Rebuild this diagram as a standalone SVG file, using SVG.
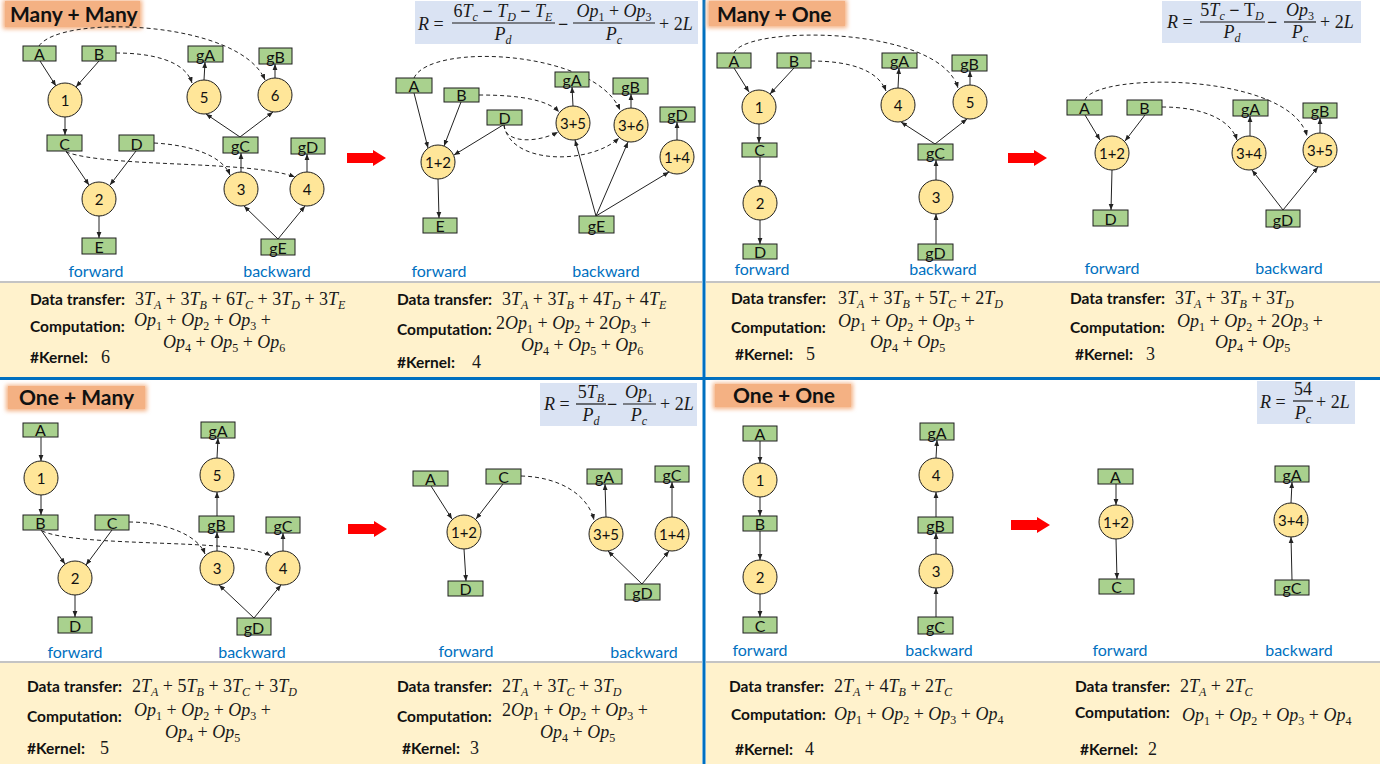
<svg xmlns="http://www.w3.org/2000/svg" width="1385" height="764" viewBox="0 0 1385 764">
<style>
.box{fill:#A9D18E;stroke:#1f1f1f;stroke-width:1}
.op{fill:#FFE699;stroke:#1f1f1f;stroke-width:1}
.bl{font-family:Lato,"Liberation Sans",sans-serif;font-size:16px;fill:#111;text-anchor:middle}
.cl{font-family:Lato,"Liberation Sans",sans-serif;font-size:15px;fill:#111;text-anchor:middle}
.e{fill:none;stroke:#222;stroke-width:1;marker-end:url(#ah)}
.d{fill:none;stroke:#222;stroke-width:1;stroke-dasharray:4 3;marker-end:url(#ah)}
.fb{font-family:Lato,"Liberation Sans",sans-serif;font-size:16px;fill:#0070C0;text-anchor:middle}
.lb{font-family:Lato,"Liberation Sans",sans-serif;font-weight:bold;font-size:15.5px;fill:#111}
.tt{font-family:Lato,"Liberation Sans",sans-serif;font-weight:bold;font-size:21px;fill:#111}
.m{font-family:"Liberation Serif",serif;font-size:18px;fill:#1a1a1a}
.i{font-style:italic}
.s{font-style:italic;font-size:12px}
.sn{font-size:12px}
.bm{font-weight:bold}
.fr{stroke:#1a1a1a;stroke-width:1.2}
.yel{fill:#FFF2CC}
.sep{stroke:#C4C4C4;stroke-width:2}
.fbox{fill:#DAE3F3}
.red{fill:#FF0000}
.ttl{fill:#F4B183}
</style>
<defs>
<marker id="ah" viewBox="0 0 10 10" refX="10" refY="5" markerWidth="6" markerHeight="6" markerUnits="userSpaceOnUse" orient="auto"><path d="M0,1 L10,5 L0,9 z" fill="#222"/></marker>
<filter id="soft" x="-20%" y="-40%" width="140%" height="180%"><feGaussianBlur stdDeviation="2"/></filter>
</defs>
<rect x="0" y="0" width="1385" height="764" fill="#fff"/>

<!-- panels -->
<g id="panels">
<rect class="yel" x="0" y="283" width="702" height="94"/>
<rect class="yel" x="706" y="283" width="674" height="94"/>
<rect class="yel" x="0" y="663" width="702" height="101"/>
<rect class="yel" x="706" y="663" width="674" height="101"/>
<line class="sep" x1="0" y1="282" x2="702" y2="282"/>
<line class="sep" x1="706" y1="282" x2="1380" y2="282"/>
<line class="sep" x1="0" y1="662" x2="702" y2="662"/>
<line class="sep" x1="706" y1="662" x2="1380" y2="662"/>
<line x1="0" y1="378.5" x2="1380" y2="378.5" stroke="#0070C0" stroke-width="3"/>
<line x1="704" y1="0" x2="704" y2="764" stroke="#0070C0" stroke-width="3"/>
<rect class="fbox" x="415" y="1" width="283" height="43"/>
<rect class="fbox" x="1162" y="1" width="199" height="42"/>
<rect class="fbox" x="540" y="383" width="157" height="43"/>
<rect class="fbox" x="1257" y="381" width="98" height="43"/>
</g>

<!-- titles -->
<g id="title-q1"><rect class="ttl" x="3" y="0" width="139" height="29" filter="url(#soft)"/><rect class="ttl" x="5" y="1" width="135" height="26"/><text class="tt" x="10" y="22">Many + Many</text></g>
<g id="title-q2"><rect class="ttl" x="707" y="0" width="140" height="28" filter="url(#soft)"/><rect class="ttl" x="709" y="1" width="136" height="25"/><text class="tt" x="717" y="22">Many + One</text></g>
<g id="title-q3"><rect class="ttl" x="6" y="385" width="141" height="26" filter="url(#soft)"/><rect class="ttl" x="8" y="386" width="137" height="23"/><text class="tt" x="19" y="405">One + Many</text></g>
<g id="title-q4"><rect class="ttl" x="713" y="383" width="140" height="26" filter="url(#soft)"/><rect class="ttl" x="715" y="384" width="136" height="23"/><text class="tt" x="733" y="403">One + One</text></g>

<!-- formulas -->
<g id="formula-q1">
<text class="m" x="418" y="30"><tspan class="i">R</tspan> =</text>
<text class="m" x="503" y="17" text-anchor="middle">6<tspan class="i">T</tspan><tspan class="s" dy="4">c</tspan><tspan dy="-4" class="bm"> − </tspan><tspan class="i">T</tspan><tspan class="s" dy="4">D</tspan><tspan dy="-4" class="bm"> − </tspan><tspan class="i">T</tspan><tspan class="s" dy="4">E</tspan></text>
<line class="fr" x1="452" y1="23" x2="555" y2="23"/>
<text class="m" x="503" y="40" text-anchor="middle"><tspan class="i">P</tspan><tspan class="s" dy="4">d</tspan></text>
<text class="m bm" x="558" y="30">−</text>
<text class="m" x="614" y="17" text-anchor="middle"><tspan class="i">Op</tspan><tspan class="sn" dy="4">1</tspan><tspan dy="-4"> + </tspan><tspan class="i">Op</tspan><tspan class="sn" dy="4">3</tspan></text>
<line class="fr" x1="573" y1="23" x2="655" y2="23"/>
<text class="m" x="614" y="40" text-anchor="middle"><tspan class="i">P</tspan><tspan class="s" dy="4">c</tspan></text>
<text class="m" x="659" y="30">+ 2<tspan class="i">L</tspan></text>
</g>
<g id="formula-q2">
<text class="m" x="1167" y="28"><tspan class="i">R</tspan> =</text>
<text class="m" x="1232" y="16" text-anchor="middle">5<tspan class="i">T</tspan><tspan class="s" dy="4">c</tspan><tspan dy="-4"><tspan class="bm"> − </tspan>T</tspan><tspan class="s" dy="4">D</tspan></text>
<line class="fr" x1="1200" y1="22" x2="1265" y2="22"/>
<text class="m" x="1232" y="38" text-anchor="middle"><tspan class="i">P</tspan><tspan class="s" dy="4">d</tspan></text>
<text class="m bm" x="1267" y="28">−</text>
<text class="m" x="1300" y="16" text-anchor="middle"><tspan class="i">Op</tspan><tspan class="sn" dy="4">3</tspan></text>
<line class="fr" x1="1284" y1="22" x2="1316" y2="22"/>
<text class="m" x="1300" y="38" text-anchor="middle"><tspan class="i">P</tspan><tspan class="s" dy="4">c</tspan></text>
<text class="m" x="1320" y="28">+ 2<tspan class="i">L</tspan></text>
</g>
<g id="formula-q3">
<text class="m" x="544" y="410"><tspan class="i">R</tspan> =</text>
<text class="m" x="591" y="398" text-anchor="middle">5<tspan class="i">T</tspan><tspan class="s" dy="4">B</tspan></text>
<line class="fr" x1="576" y1="404" x2="606" y2="404"/>
<text class="m" x="591" y="421" text-anchor="middle"><tspan class="i">P</tspan><tspan class="s" dy="4">d</tspan></text>
<text class="m bm" x="607" y="410">−</text>
<text class="m" x="639" y="398" text-anchor="middle"><tspan class="i">Op</tspan><tspan class="sn" dy="4">1</tspan></text>
<line class="fr" x1="623" y1="404" x2="656" y2="404"/>
<text class="m" x="639" y="421" text-anchor="middle"><tspan class="i">P</tspan><tspan class="s" dy="4">c</tspan></text>
<text class="m" x="660" y="410">+ 2<tspan class="i">L</tspan></text>
</g>
<g id="formula-q4">
<text class="m" x="1260" y="408"><tspan class="i">R</tspan> =</text>
<text class="m" x="1303" y="395" text-anchor="middle">54</text>
<line class="fr" x1="1293" y1="401" x2="1313" y2="401"/>
<text class="m" x="1303" y="419" text-anchor="middle"><tspan class="i">P</tspan><tspan class="s" dy="4">c</tspan></text>
<text class="m" x="1316" y="408">+ 2<tspan class="i">L</tspan></text>
</g>

<!-- red arrows -->
<g id="red-arrows">
<path class="red" d="M347,153 L373,153 L373,150 L386,158 L373,166 L373,163 L347,163 Z"/>
<path class="red" d="M1008,153 L1034,153 L1034,150 L1047,158 L1034,166 L1034,163 L1008,163 Z"/>
<path class="red" d="M348,524 L374,524 L374,521 L387,529 L374,537 L374,534 L348,534 Z"/>
<path class="red" d="M1011,520 L1037,520 L1037,517 L1050,525 L1037,533 L1037,530 L1011,530 Z"/>
</g>

<!-- connectors -->
<g id="connectors">
<!-- Q1 left -->
<path class="e" d="M40,61 L56,86"/>
<path class="e" d="M99,61 L76,87"/>
<path class="e" d="M65,117 L65,135"/>
<path class="e" d="M66,151 L89,185"/>
<path class="e" d="M136,151 L110,185"/>
<path class="e" d="M99,216 L99,238"/>
<path class="e" d="M204,80 L205,62"/>
<path class="e" d="M275,78 L275,64"/>
<path class="e" d="M240,137 L206,114"/>
<path class="e" d="M240,137 L273,112"/>
<path class="e" d="M241,172 L241,153"/>
<path class="e" d="M307,172 L307,154"/>
<path class="e" d="M278,239 L244,206"/>
<path class="e" d="M278,239 L305,206"/>
<path class="d" d="M39,46 C60,14 240,20 265,80"/>
<path class="d" d="M116,53 C150,53 185,60 192,83"/>
<path class="d" d="M154,143 C190,145 222,155 230,175"/>
<path class="d" d="M66,152 C110,168 250,160 295,177"/>
<!-- Q1 right -->
<path class="e" d="M414,93 L428,148"/>
<path class="e" d="M461,102 L444,146"/>
<path class="e" d="M503,125 L454,155"/>
<path class="e" d="M438,179 L439,218"/>
<path class="e" d="M573,106 L572,87"/>
<path class="e" d="M631,108 L631,94"/>
<path class="e" d="M677,140 L677,122"/>
<path class="e" d="M596,216 L575,140"/>
<path class="e" d="M596,216 L628,142"/>
<path class="e" d="M596,216 L669,172"/>
<path class="d" d="M414,78 C430,42 595,50 620,110"/>
<path class="d" d="M479,95 C520,95 548,100 559,112"/>
<path class="d" d="M504,125 C505,145 540,142 558,132"/>
<path class="d" d="M504,125 C510,165 590,165 619,138"/>
<!-- Q2 left -->
<path class="e" d="M734,68 L749,92"/>
<path class="e" d="M794,68 L770,94"/>
<path class="e" d="M759,124 L759,143"/>
<path class="e" d="M760,157 L760,186"/>
<path class="e" d="M760,220 L760,244"/>
<path class="e" d="M898,88 L899,68"/>
<path class="e" d="M970,85 L970,71"/>
<path class="e" d="M935,144 L901,122"/>
<path class="e" d="M935,144 L967,119"/>
<path class="e" d="M936,180 L936,160"/>
<path class="e" d="M936,244 L936,214"/>
<path class="d" d="M734,53 C745,25 940,25 958,88"/>
<path class="d" d="M811,61 C850,61 878,70 886,91"/>
<!-- Q2 right -->
<path class="e" d="M1085,115 L1100,140"/>
<path class="e" d="M1145,115 L1125,141"/>
<path class="e" d="M1112,170 L1111,210"/>
<path class="e" d="M1250,136 L1250,116"/>
<path class="e" d="M1320,133 L1320,118"/>
<path class="e" d="M1283,210 L1252,170"/>
<path class="e" d="M1283,210 L1318,167"/>
<path class="d" d="M1085,100 C1095,72 1290,72 1307,136"/>
<path class="d" d="M1162,107 C1200,107 1230,118 1237,140"/>
<!-- Q3 left -->
<path class="e" d="M41,437 L41,461"/>
<path class="e" d="M41,495 L41,515"/>
<path class="e" d="M41,530 L65,564"/>
<path class="e" d="M112,530 L86,565"/>
<path class="e" d="M75,595 L75,617"/>
<path class="e" d="M217,458 L218,438"/>
<path class="e" d="M217,516 L217,492"/>
<path class="e" d="M217,551 L217,532"/>
<path class="e" d="M283,551 L283,533"/>
<path class="e" d="M254,618 L219,585"/>
<path class="e" d="M254,618 L281,585"/>
<path class="d" d="M129,522 C165,522 198,535 205,554"/>
<path class="d" d="M42,531 C80,548 240,538 271,556"/>
<!-- Q3 right -->
<path class="e" d="M431,486 L452,519"/>
<path class="e" d="M503,484 L476,519"/>
<path class="e" d="M464,549 L466,581"/>
<path class="e" d="M606,517 L605,484"/>
<path class="e" d="M672,517 L672,482"/>
<path class="e" d="M642,584 L608,551"/>
<path class="e" d="M642,584 L669,551"/>
<path class="d" d="M521,476 C560,477 588,495 594,520"/>
<!-- Q4 left -->
<path class="e" d="M760,441 L760,463"/>
<path class="e" d="M760,497 L760,516"/>
<path class="e" d="M760,531 L760,560"/>
<path class="e" d="M760,594 L760,617"/>
<path class="e" d="M936,458 L937,440"/>
<path class="e" d="M936,517 L936,492"/>
<path class="e" d="M936,554 L936,533"/>
<path class="e" d="M936,617 L936,588"/>
<!-- Q4 right -->
<path class="e" d="M1116,484 L1116,505"/>
<path class="e" d="M1116,539 L1117,579"/>
<path class="e" d="M1291,503 L1292,482"/>
<path class="e" d="M1292,580 L1291,537"/>
</g>

<!-- Q1 left nodes -->
<g id="q1a-A"><rect class="box" x="23" y="46" width="33" height="15"/><text class="bl" x="39.5" y="59.5">A</text></g>
<g id="q1a-B"><rect class="box" x="82" y="46" width="34" height="15"/><text class="bl" x="99" y="59.5">B</text></g>
<g id="q1a-gA"><rect class="box" x="188" y="46" width="35" height="16"/><text class="bl" x="205.5" y="60.5">gA</text></g>
<g id="q1a-gB"><rect class="box" x="259" y="48" width="33" height="16"/><text class="bl" x="275.5" y="62.5">gB</text></g>
<g id="q1a-C"><rect class="box" x="47" y="135" width="35" height="16"/><text class="bl" x="64.5" y="149.5">C</text></g>
<g id="q1a-D"><rect class="box" x="119" y="135" width="35" height="16"/><text class="bl" x="136.5" y="149.5">D</text></g>
<g id="q1a-gC"><rect class="box" x="223" y="137" width="35" height="16"/><text class="bl" x="240.5" y="151.5">gC</text></g>
<g id="q1a-gD"><rect class="box" x="291" y="138" width="34" height="16"/><text class="bl" x="308" y="152.5">gD</text></g>
<g id="q1a-E"><rect class="box" x="82" y="238" width="34" height="16"/><text class="bl" x="99" y="252.5">E</text></g>
<g id="q1a-gE"><rect class="box" x="261" y="239" width="34" height="16"/><text class="bl" x="278" y="253.5">gE</text></g>
<g id="q1a-1"><circle class="op" cx="65" cy="100" r="17"/><text class="cl" x="65" y="105.5">1</text></g>
<g id="q1a-5"><circle class="op" cx="204" cy="97" r="17"/><text class="cl" x="204" y="102.5">5</text></g>
<g id="q1a-6"><circle class="op" cx="275" cy="95" r="17"/><text class="cl" x="275" y="100.5">6</text></g>
<g id="q1a-2"><circle class="op" cx="99" cy="199" r="17"/><text class="cl" x="99" y="204.5">2</text></g>
<g id="q1a-3"><circle class="op" cx="241" cy="189" r="17"/><text class="cl" x="241" y="194.5">3</text></g>
<g id="q1a-4"><circle class="op" cx="307" cy="189" r="17"/><text class="cl" x="307" y="194.5">4</text></g>

<!-- Q1 right nodes -->
<g id="q1b-A"><rect class="box" x="396" y="78" width="36" height="15"/><text class="bl" x="414" y="91.5">A</text></g>
<g id="q1b-B"><rect class="box" x="444" y="88" width="35" height="14"/><text class="bl" x="461.5" y="100.5">B</text></g>
<g id="q1b-D"><rect class="box" x="487" y="110" width="35" height="15"/><text class="bl" x="504.5" y="123.5">D</text></g>
<g id="q1b-gA"><rect class="box" x="555" y="72" width="34" height="15"/><text class="bl" x="572" y="85.5">gA</text></g>
<g id="q1b-gB"><rect class="box" x="613" y="78" width="35" height="16"/><text class="bl" x="630.5" y="92.5">gB</text></g>
<g id="q1b-gD"><rect class="box" x="660" y="107" width="35" height="15"/><text class="bl" x="677.5" y="120.5">gD</text></g>
<g id="q1b-E"><rect class="box" x="423" y="218" width="34" height="15"/><text class="bl" x="440" y="231.5">E</text></g>
<g id="q1b-gE"><rect class="box" x="579" y="216" width="35" height="17"/><text class="bl" x="596.5" y="231.5">gE</text></g>
<g id="q1b-12"><circle class="op" cx="438" cy="162" r="17"/><text class="cl" x="438" y="167.5">1+2</text></g>
<g id="q1b-35"><circle class="op" cx="573" cy="123" r="17"/><text class="cl" x="573" y="128.5">3+5</text></g>
<g id="q1b-36"><circle class="op" cx="631" cy="125" r="17"/><text class="cl" x="631" y="130.5">3+6</text></g>
<g id="q1b-14"><circle class="op" cx="677" cy="157" r="17"/><text class="cl" x="677" y="162.5">1+4</text></g>

<!-- Q2 left nodes -->
<g id="q2a-A"><rect class="box" x="717" y="53" width="34" height="15"/><text class="bl" x="734" y="66.5">A</text></g>
<g id="q2a-B"><rect class="box" x="777" y="53" width="34" height="15"/><text class="bl" x="794" y="66.5">B</text></g>
<g id="q2a-gA"><rect class="box" x="882" y="53" width="35" height="15"/><text class="bl" x="899.5" y="66.5">gA</text></g>
<g id="q2a-gB"><rect class="box" x="952" y="55" width="35" height="16"/><text class="bl" x="969.5" y="69.5">gB</text></g>
<g id="q2a-C"><rect class="box" x="742" y="143" width="35" height="14"/><text class="bl" x="759.5" y="155.5">C</text></g>
<g id="q2a-gC"><rect class="box" x="918" y="144" width="35" height="16"/><text class="bl" x="935.5" y="158.5">gC</text></g>
<g id="q2a-D"><rect class="box" x="743" y="244" width="34" height="15"/><text class="bl" x="760" y="257.5">D</text></g>
<g id="q2a-gD"><rect class="box" x="918" y="244" width="35" height="16"/><text class="bl" x="935.5" y="258.5">gD</text></g>
<g id="q2a-1"><circle class="op" cx="759" cy="107" r="17"/><text class="cl" x="759" y="112.5">1</text></g>
<g id="q2a-4"><circle class="op" cx="898" cy="105" r="17"/><text class="cl" x="898" y="110.5">4</text></g>
<g id="q2a-5"><circle class="op" cx="970" cy="102" r="17"/><text class="cl" x="970" y="107.5">5</text></g>
<g id="q2a-2"><circle class="op" cx="760" cy="203" r="17"/><text class="cl" x="760" y="208.5">2</text></g>
<g id="q2a-3"><circle class="op" cx="936" cy="197" r="17"/><text class="cl" x="936" y="202.5">3</text></g>

<!-- Q2 right nodes -->
<g id="q2b-A"><rect class="box" x="1067" y="100" width="35" height="15"/><text class="bl" x="1084.5" y="113.5">A</text></g>
<g id="q2b-B"><rect class="box" x="1127" y="100" width="35" height="15"/><text class="bl" x="1144.5" y="113.5">B</text></g>
<g id="q2b-gA"><rect class="box" x="1233" y="100" width="35" height="16"/><text class="bl" x="1250.5" y="114.5">gA</text></g>
<g id="q2b-gB"><rect class="box" x="1303" y="103" width="34" height="15"/><text class="bl" x="1320" y="116.5">gB</text></g>
<g id="q2b-D"><rect class="box" x="1093" y="210" width="35" height="16"/><text class="bl" x="1110.5" y="224.5">D</text></g>
<g id="q2b-gD"><rect class="box" x="1266" y="210" width="34" height="17"/><text class="bl" x="1283" y="225.5">gD</text></g>
<g id="q2b-12"><circle class="op" cx="1112" cy="153" r="17"/><text class="cl" x="1112" y="158.5">1+2</text></g>
<g id="q2b-34"><circle class="op" cx="1249" cy="153" r="17"/><text class="cl" x="1249" y="158.5">3+4</text></g>
<g id="q2b-35"><circle class="op" cx="1320" cy="150" r="17"/><text class="cl" x="1320" y="155.5">3+5</text></g>

<!-- Q3 left nodes -->
<g id="q3a-A"><rect class="box" x="23" y="423" width="35" height="14"/><text class="bl" x="40.5" y="435.5">A</text></g>
<g id="q3a-B"><rect class="box" x="23" y="515" width="35" height="15"/><text class="bl" x="40.5" y="528.5">B</text></g>
<g id="q3a-C"><rect class="box" x="95" y="515" width="34" height="15"/><text class="bl" x="112" y="528.5">C</text></g>
<g id="q3a-D"><rect class="box" x="58" y="617" width="34" height="16"/><text class="bl" x="75" y="631.5">D</text></g>
<g id="q3a-gA"><rect class="box" x="201" y="422" width="34" height="16"/><text class="bl" x="218" y="436.5">gA</text></g>
<g id="q3a-gB"><rect class="box" x="199" y="516" width="35" height="16"/><text class="bl" x="216.5" y="530.5">gB</text></g>
<g id="q3a-gC"><rect class="box" x="266" y="517" width="34" height="16"/><text class="bl" x="283" y="531.5">gC</text></g>
<g id="q3a-gD"><rect class="box" x="237" y="618" width="34" height="17"/><text class="bl" x="254" y="633.5">gD</text></g>
<g id="q3a-1"><circle class="op" cx="41" cy="478" r="17"/><text class="cl" x="41" y="483.5">1</text></g>
<g id="q3a-2"><circle class="op" cx="75" cy="578" r="17"/><text class="cl" x="75" y="583.5">2</text></g>
<g id="q3a-5"><circle class="op" cx="217" cy="475" r="17"/><text class="cl" x="217" y="480.5">5</text></g>
<g id="q3a-3"><circle class="op" cx="217" cy="568" r="17"/><text class="cl" x="217" y="573.5">3</text></g>
<g id="q3a-4"><circle class="op" cx="283" cy="568" r="17"/><text class="cl" x="283" y="573.5">4</text></g>

<!-- Q3 right nodes -->
<g id="q3b-A"><rect class="box" x="413" y="471" width="35" height="15"/><text class="bl" x="430.5" y="484.5">A</text></g>
<g id="q3b-C"><rect class="box" x="486" y="469" width="35" height="15"/><text class="bl" x="503.5" y="482.5">C</text></g>
<g id="q3b-D"><rect class="box" x="448" y="581" width="35" height="15"/><text class="bl" x="465.5" y="594.5">D</text></g>
<g id="q3b-gA"><rect class="box" x="587" y="469" width="35" height="15"/><text class="bl" x="604.5" y="482.5">gA</text></g>
<g id="q3b-gC"><rect class="box" x="655" y="466" width="34" height="16"/><text class="bl" x="672" y="480.5">gC</text></g>
<g id="q3b-gD"><rect class="box" x="625" y="584" width="35" height="16"/><text class="bl" x="642.5" y="598.5">gD</text></g>
<g id="q3b-12"><circle class="op" cx="464" cy="532" r="17"/><text class="cl" x="464" y="537.5">1+2</text></g>
<g id="q3b-35"><circle class="op" cx="606" cy="534" r="17"/><text class="cl" x="606" y="539.5">3+5</text></g>
<g id="q3b-14"><circle class="op" cx="672" cy="534" r="17"/><text class="cl" x="672" y="539.5">1+4</text></g>

<!-- Q4 left nodes -->
<g id="q4a-A"><rect class="box" x="743" y="426" width="34" height="15"/><text class="bl" x="760" y="439.5">A</text></g>
<g id="q4a-B"><rect class="box" x="743" y="516" width="34" height="15"/><text class="bl" x="760" y="529.5">B</text></g>
<g id="q4a-C"><rect class="box" x="743" y="617" width="34" height="16"/><text class="bl" x="760" y="631.5">C</text></g>
<g id="q4a-gA"><rect class="box" x="920" y="423" width="34" height="17"/><text class="bl" x="937" y="438.5">gA</text></g>
<g id="q4a-gB"><rect class="box" x="918" y="517" width="35" height="16"/><text class="bl" x="935.5" y="531.5">gB</text></g>
<g id="q4a-gC"><rect class="box" x="918" y="617" width="35" height="17"/><text class="bl" x="935.5" y="632.5">gC</text></g>
<g id="q4a-1"><circle class="op" cx="760" cy="480" r="17"/><text class="cl" x="760" y="485.5">1</text></g>
<g id="q4a-2"><circle class="op" cx="760" cy="577" r="17"/><text class="cl" x="760" y="582.5">2</text></g>
<g id="q4a-4"><circle class="op" cx="936" cy="475" r="17"/><text class="cl" x="936" y="480.5">4</text></g>
<g id="q4a-3"><circle class="op" cx="936" cy="571" r="17"/><text class="cl" x="936" y="576.5">3</text></g>

<!-- Q4 right nodes -->
<g id="q4b-A"><rect class="box" x="1098" y="469" width="35" height="15"/><text class="bl" x="1115.5" y="482.5">A</text></g>
<g id="q4b-C"><rect class="box" x="1099" y="579" width="35" height="15"/><text class="bl" x="1116.5" y="592.5">C</text></g>
<g id="q4b-gA"><rect class="box" x="1275" y="466" width="34" height="16"/><text class="bl" x="1292" y="480.5">gA</text></g>
<g id="q4b-gC"><rect class="box" x="1275" y="580" width="34" height="15"/><text class="bl" x="1292" y="593.5">gC</text></g>
<g id="q4b-12"><circle class="op" cx="1116" cy="522" r="17"/><text class="cl" x="1116" y="527.5">1+2</text></g>
<g id="q4b-34"><circle class="op" cx="1291" cy="520" r="17"/><text class="cl" x="1291" y="525.5">3+4</text></g>

<!-- forward/backward labels -->
<g id="fb-labels">
<text class="fb" x="96" y="277">forward</text><text class="fb" x="277" y="277">backward</text>
<text class="fb" x="439" y="277">forward</text><text class="fb" x="606" y="277">backward</text>
<text class="fb" x="762" y="275">forward</text><text class="fb" x="943" y="275">backward</text>
<text class="fb" x="1112" y="274">forward</text><text class="fb" x="1289" y="274">backward</text>
<text class="fb" x="75" y="658">forward</text><text class="fb" x="252" y="658">backward</text>
<text class="fb" x="466" y="657">forward</text><text class="fb" x="644" y="658">backward</text>
<text class="fb" x="760" y="656">forward</text><text class="fb" x="939" y="656">backward</text>
<text class="fb" x="1120" y="656">forward</text><text class="fb" x="1299" y="656">backward</text>
</g>

<!-- cost text Q1 -->
<g id="cost-q1">
<text class="lb" x="30" y="305">Data transfer:</text>
<text class="m" x="135" y="305">3<tspan class="i">T</tspan><tspan class="s" dy="4">A</tspan><tspan dy="-4"> + 3</tspan><tspan class="i">T</tspan><tspan class="s" dy="4">B</tspan><tspan dy="-4"> + 6</tspan><tspan class="i">T</tspan><tspan class="s" dy="4">C</tspan><tspan dy="-4"> + 3</tspan><tspan class="i">T</tspan><tspan class="s" dy="4">D</tspan><tspan dy="-4"> + 3</tspan><tspan class="i">T</tspan><tspan class="s" dy="4">E</tspan></text>
<text class="lb" x="30" y="332">Computation:</text>
<text class="m" x="134" y="326"><tspan class="i">Op</tspan><tspan class="sn" dy="4">1</tspan><tspan dy="-4"> + </tspan><tspan class="i">Op</tspan><tspan class="sn" dy="4">2</tspan><tspan dy="-4"> + </tspan><tspan class="i">Op</tspan><tspan class="sn" dy="4">3</tspan><tspan dy="-4"> +</tspan></text>
<text class="m" x="163" y="348"><tspan class="i">Op</tspan><tspan class="sn" dy="4">4</tspan><tspan dy="-4"> + </tspan><tspan class="i">Op</tspan><tspan class="sn" dy="4">5</tspan><tspan dy="-4"> + </tspan><tspan class="i">Op</tspan><tspan class="sn" dy="4">6</tspan></text>
<text class="lb" x="30" y="363">#Kernel:</text><text class="m" x="101" y="363">6</text>
<text class="lb" x="397" y="305">Data transfer:</text>
<text class="m" x="502" y="305">3<tspan class="i">T</tspan><tspan class="s" dy="4">A</tspan><tspan dy="-4"> + 3</tspan><tspan class="i">T</tspan><tspan class="s" dy="4">B</tspan><tspan dy="-4"> + 4</tspan><tspan class="i">T</tspan><tspan class="s" dy="4">D</tspan><tspan dy="-4"> + 4</tspan><tspan class="i">T</tspan><tspan class="s" dy="4">E</tspan></text>
<text class="lb" x="397" y="335">Computation:</text>
<text class="m" x="496" y="329">2<tspan class="i">Op</tspan><tspan class="sn" dy="4">1</tspan><tspan dy="-4"> + </tspan><tspan class="i">Op</tspan><tspan class="sn" dy="4">2</tspan><tspan dy="-4"> + 2</tspan><tspan class="i">Op</tspan><tspan class="sn" dy="4">3</tspan><tspan dy="-4"> +</tspan></text>
<text class="m" x="521" y="351"><tspan class="i">Op</tspan><tspan class="sn" dy="4">4</tspan><tspan dy="-4"> + </tspan><tspan class="i">Op</tspan><tspan class="sn" dy="4">5</tspan><tspan dy="-4"> + </tspan><tspan class="i">Op</tspan><tspan class="sn" dy="4">6</tspan></text>
<text class="lb" x="397" y="368">#Kernel:</text><text class="m" x="472" y="368">4</text>
</g>

<!-- cost text Q2 -->
<g id="cost-q2">
<text class="lb" x="731" y="304">Data transfer:</text>
<text class="m" x="838" y="304">3<tspan class="i">T</tspan><tspan class="s" dy="4">A</tspan><tspan dy="-4"> + 3</tspan><tspan class="i">T</tspan><tspan class="s" dy="4">B</tspan><tspan dy="-4"> + 5</tspan><tspan class="i">T</tspan><tspan class="s" dy="4">C</tspan><tspan dy="-4"> + 2</tspan><tspan class="i">T</tspan><tspan class="s" dy="4">D</tspan></text>
<text class="lb" x="731" y="333">Computation:</text>
<text class="m" x="838" y="327"><tspan class="i">Op</tspan><tspan class="sn" dy="4">1</tspan><tspan dy="-4"> + </tspan><tspan class="i">Op</tspan><tspan class="sn" dy="4">2</tspan><tspan dy="-4"> + </tspan><tspan class="i">Op</tspan><tspan class="sn" dy="4">3</tspan><tspan dy="-4"> +</tspan></text>
<text class="m" x="870" y="348"><tspan class="i">Op</tspan><tspan class="sn" dy="4">4</tspan><tspan dy="-4"> + </tspan><tspan class="i">Op</tspan><tspan class="sn" dy="4">5</tspan></text>
<text class="lb" x="735" y="360">#Kernel:</text><text class="m" x="806" y="360">5</text>
<text class="lb" x="1070" y="304">Data transfer:</text>
<text class="m" x="1175" y="304">3<tspan class="i">T</tspan><tspan class="s" dy="4">A</tspan><tspan dy="-4"> + 3</tspan><tspan class="i">T</tspan><tspan class="s" dy="4">B</tspan><tspan dy="-4"> + 3</tspan><tspan class="i">T</tspan><tspan class="s" dy="4">D</tspan></text>
<text class="lb" x="1070" y="333">Computation:</text>
<text class="m" x="1177" y="327"><tspan class="i">Op</tspan><tspan class="sn" dy="4">1</tspan><tspan dy="-4"> + </tspan><tspan class="i">Op</tspan><tspan class="sn" dy="4">2</tspan><tspan dy="-4"> + 2</tspan><tspan class="i">Op</tspan><tspan class="sn" dy="4">3</tspan><tspan dy="-4"> +</tspan></text>
<text class="m" x="1215" y="348"><tspan class="i">Op</tspan><tspan class="sn" dy="4">4</tspan><tspan dy="-4"> + </tspan><tspan class="i">Op</tspan><tspan class="sn" dy="4">5</tspan></text>
<text class="lb" x="1075" y="360">#Kernel:</text><text class="m" x="1146" y="360">3</text>
</g>

<!-- cost text Q3 -->
<g id="cost-q3">
<text class="lb" x="27" y="692">Data transfer:</text>
<text class="m" x="132" y="692">2<tspan class="i">T</tspan><tspan class="s" dy="4">A</tspan><tspan dy="-4"> + 5</tspan><tspan class="i">T</tspan><tspan class="s" dy="4">B</tspan><tspan dy="-4"> + 3</tspan><tspan class="i">T</tspan><tspan class="s" dy="4">C</tspan><tspan dy="-4"> + 3</tspan><tspan class="i">T</tspan><tspan class="s" dy="4">D</tspan></text>
<text class="lb" x="27" y="722">Computation:</text>
<text class="m" x="134" y="716"><tspan class="i">Op</tspan><tspan class="sn" dy="4">1</tspan><tspan dy="-4"> + </tspan><tspan class="i">Op</tspan><tspan class="sn" dy="4">2</tspan><tspan dy="-4"> + </tspan><tspan class="i">Op</tspan><tspan class="sn" dy="4">3</tspan><tspan dy="-4"> +</tspan></text>
<text class="m" x="165" y="738"><tspan class="i">Op</tspan><tspan class="sn" dy="4">4</tspan><tspan dy="-4"> + </tspan><tspan class="i">Op</tspan><tspan class="sn" dy="4">5</tspan></text>
<text class="lb" x="27" y="754">#Kernel:</text><text class="m" x="100" y="754">5</text>
<text class="lb" x="397" y="692">Data transfer:</text>
<text class="m" x="502" y="692">2<tspan class="i">T</tspan><tspan class="s" dy="4">A</tspan><tspan dy="-4"> + 3</tspan><tspan class="i">T</tspan><tspan class="s" dy="4">C</tspan><tspan dy="-4"> + 3</tspan><tspan class="i">T</tspan><tspan class="s" dy="4">D</tspan></text>
<text class="lb" x="397" y="722">Computation:</text>
<text class="m" x="502" y="716">2<tspan class="i">Op</tspan><tspan class="sn" dy="4">1</tspan><tspan dy="-4"> + </tspan><tspan class="i">Op</tspan><tspan class="sn" dy="4">2</tspan><tspan dy="-4"> + </tspan><tspan class="i">Op</tspan><tspan class="sn" dy="4">3</tspan><tspan dy="-4"> +</tspan></text>
<text class="m" x="540" y="738"><tspan class="i">Op</tspan><tspan class="sn" dy="4">4</tspan><tspan dy="-4"> + </tspan><tspan class="i">Op</tspan><tspan class="sn" dy="4">5</tspan></text>
<text class="lb" x="402" y="754">#Kernel:</text><text class="m" x="470" y="754">3</text>
</g>

<!-- cost text Q4 -->
<g id="cost-q4">
<text class="lb" x="729" y="692">Data transfer:</text>
<text class="m" x="834" y="692">2<tspan class="i">T</tspan><tspan class="s" dy="4">A</tspan><tspan dy="-4"> + 4</tspan><tspan class="i">T</tspan><tspan class="s" dy="4">B</tspan><tspan dy="-4"> + 2</tspan><tspan class="i">T</tspan><tspan class="s" dy="4">C</tspan></text>
<text class="lb" x="731" y="720">Computation:</text>
<text class="m" x="834" y="720"><tspan class="i">Op</tspan><tspan class="sn" dy="4">1</tspan><tspan dy="-4"> + </tspan><tspan class="i">Op</tspan><tspan class="sn" dy="4">2</tspan><tspan dy="-4"> + </tspan><tspan class="i">Op</tspan><tspan class="sn" dy="4">3</tspan><tspan dy="-4"> + </tspan><tspan class="i">Op</tspan><tspan class="sn" dy="4">4</tspan></text>
<text class="lb" x="735" y="755">#Kernel:</text><text class="m" x="805" y="755">4</text>
<text class="lb" x="1075" y="692">Data transfer:</text>
<text class="m" x="1180" y="692">2<tspan class="i">T</tspan><tspan class="s" dy="4">A</tspan><tspan dy="-4"> + 2</tspan><tspan class="i">T</tspan><tspan class="s" dy="4">C</tspan></text>
<text class="lb" x="1075" y="718">Computation:</text>
<text class="m" x="1182" y="721"><tspan class="i">Op</tspan><tspan class="sn" dy="4">1</tspan><tspan dy="-4"> + </tspan><tspan class="i">Op</tspan><tspan class="sn" dy="4">2</tspan><tspan dy="-4"> + </tspan><tspan class="i">Op</tspan><tspan class="sn" dy="4">3</tspan><tspan dy="-4"> + </tspan><tspan class="i">Op</tspan><tspan class="sn" dy="4">4</tspan></text>
<text class="lb" x="1080" y="755">#Kernel:</text><text class="m" x="1148" y="755">2</text>
</g>
</svg>
